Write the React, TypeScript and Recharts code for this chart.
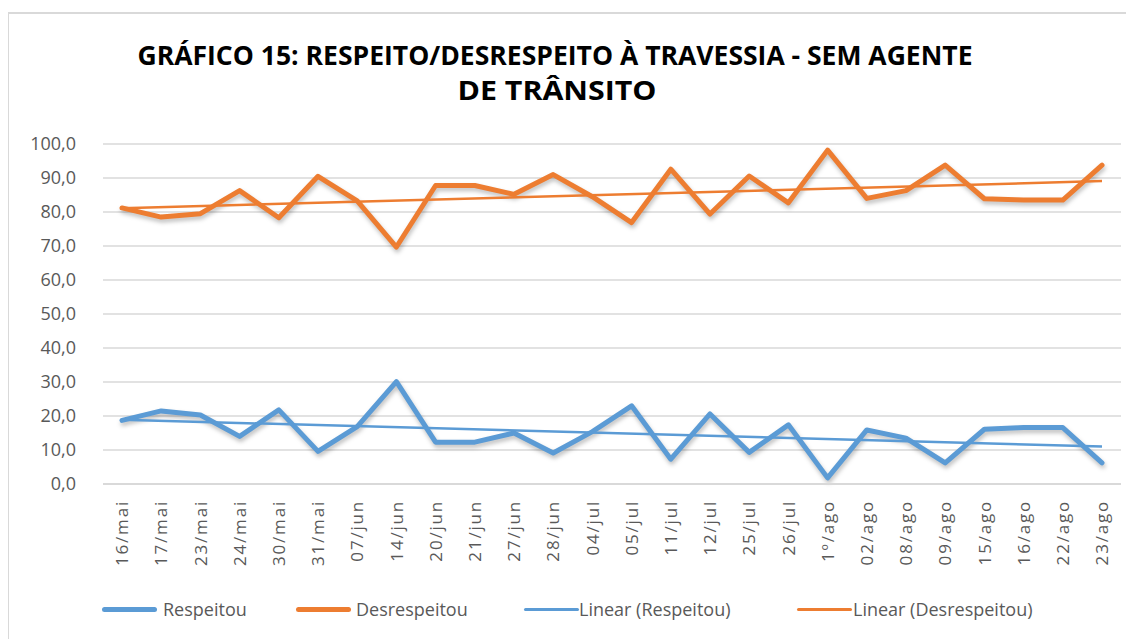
import React from 'react';
import { LineChart, Line, XAxis, YAxis, CartesianGrid } from 'recharts';

const categories = ['16/mai', '17/mai', '23/mai', '24/mai', '30/mai', '31/mai', '07/jun', '14/jun', '20/jun', '21/jun', '27/jun', '28/jun', '04/jul', '05/jul', '11/jul', '12/jul', '25/jul', '26/jul', '1º/ago', '02/ago', '08/ago', '09/ago', '15/ago', '16/ago', '22/ago', '23/ago'];

const respeitou = [18.7, 21.5, 20.3, 14.0, 21.8, 9.6, 16.9, 30.1, 12.3, 12.3, 15.0, 9.1, 15.4, 23.0, 7.3, 20.6, 9.3, 17.4, 1.8, 15.9, 13.5, 6.2, 16.1, 16.6, 16.6, 6.2];
const desrespeitou = [81.2, 78.5, 79.5, 86.3, 78.3, 90.5, 83.3, 69.7, 87.8, 87.8, 85.2, 91.0, 84.5, 76.9, 92.6, 79.4, 90.6, 82.7, 98.2, 84.0, 86.3, 93.8, 83.9, 83.5, 83.5, 93.8];

// trend lines (Excel "Linear"): only the two end values
const trendRespeitou = [18.9, 11.0];
const trendDesrespeitou = [81.1, 89.1];

const yTicks = [0, 10, 20, 30, 40, 50, 60, 70, 80, 90, 100];

const last = categories.length - 1;
const data = categories.map((c, i) => ({
  dia: c,
  respeitou: respeitou[i],
  desrespeitou: desrespeitou[i],
  linR: i === 0 ? trendRespeitou[0] : i === last ? trendRespeitou[1] : null,
  linD: i === 0 ? trendDesrespeitou[0] : i === last ? trendDesrespeitou[1] : null,
}));

const BLUE = '#5b9bd5';
const ORANGE = '#ed7d31';
const GRAY_TEXT = '#595959';
const FONT = '"Open Sans", Lato, sans-serif';

const legendItems = [
  { label: 'Respeitou', color: BLUE, thick: 5, lineX: 102, textX: 163 },
  { label: 'Desrespeitou', color: ORANGE, thick: 5, lineX: 296, textX: 356 },
  { label: 'Linear (Respeitou)', color: BLUE, thick: 3, lineX: 524, textX: 579 },
  { label: 'Linear (Desrespeitou)', color: ORANGE, thick: 3, lineX: 797, textX: 853 },
];

const XTick = (props: any) => {
  const { x, y, payload } = props;
  return (
    <text
      transform={`translate(${x},${y}) rotate(-90)`}
      textAnchor="end"
      dy="0.36em"
      fill={GRAY_TEXT}
      fontSize={17}
      letterSpacing={1.8}
      fontFamily={FONT}
    >
      {payload.value}
    </text>
  );
};

export default function App() {
  return (
    <div style={{ position: 'relative', width: 1134, height: 639, margin: '-8px 0 0 -8px', overflow: 'hidden', background: '#fff' }}>
      <style>{`.data-line .recharts-curve { filter: drop-shadow(1px 3px 2px rgba(0,0,0,0.25)); }`}</style>
      <div style={{ position: 'absolute', left: 7, top: 12, width: 1140, height: 640, border: '2px solid #d9d9d9', boxSizing: 'border-box' }} />
      <div style={{ position: 'absolute', left: 0, top: 0 }}>
        <LineChart width={1134} height={639} data={data} margin={{ top: 144, right: 13, left: 0, bottom: 75 }}>
          <text x={555} y={65} textAnchor="middle" fontSize={27} fontWeight="bold" fontFamily={FONT} fill="#000" textLength={835} lengthAdjust="spacingAndGlyphs">
            GRÁFICO 15: RESPEITO/DESRESPEITO À TRAVESSIA - SEM AGENTE
          </text>
          <text x={557} y={100} textAnchor="middle" fontSize={27} fontWeight="bold" fontFamily={FONT} fill="#000" textLength={199} lengthAdjust="spacingAndGlyphs">
            DE TRÂNSITO
          </text>
          <CartesianGrid vertical={false} stroke="#d9d9d9" strokeWidth={1.5} />
          <XAxis
            dataKey="dia"
            interval={0}
            height={80}
            padding={{ left: 19, right: 19 }}
            tickSize={0}
            tickMargin={16}
            tick={<XTick />}
            axisLine={{ stroke: '#d9d9d9', strokeWidth: 2 }}
            tickLine={false}
          />
          <YAxis
            width={103}
            domain={[0, 100]}
            ticks={yTicks}
            tickSize={0}
            tickMargin={27}
            axisLine={false}
            tickLine={false}
            tickFormatter={(v: number) => v.toFixed(1).replace('.', ',')}
            tick={{ fill: GRAY_TEXT, fontSize: 18, fontFamily: FONT }}
          />
          <Line className="data-line" dataKey="respeitou" stroke={BLUE} strokeWidth={5} dot={false} strokeLinejoin="round" strokeLinecap="round" isAnimationActive={false} />
          <Line className="data-line" dataKey="desrespeitou" stroke={ORANGE} strokeWidth={5} dot={false} strokeLinejoin="round" strokeLinecap="round" isAnimationActive={false} />
          <Line dataKey="linR" stroke={BLUE} strokeWidth={2.5} dot={false} connectNulls isAnimationActive={false} />
          <Line dataKey="linD" stroke={ORANGE} strokeWidth={2.5} dot={false} connectNulls isAnimationActive={false} />
        </LineChart>
      </div>
      {legendItems.map((it) => (
        <React.Fragment key={it.label}>
          <div style={{ position: 'absolute', left: it.lineX, top: 609 - it.thick / 2, width: 55, height: it.thick, borderRadius: it.thick / 2, background: it.color }} />
          <div style={{ position: 'absolute', left: it.textX, top: 596, fontSize: 18, lineHeight: '26px', fontFamily: FONT, color: GRAY_TEXT, whiteSpace: 'nowrap' }}>{it.label}</div>
        </React.Fragment>
      ))}
    </div>
  );
}
